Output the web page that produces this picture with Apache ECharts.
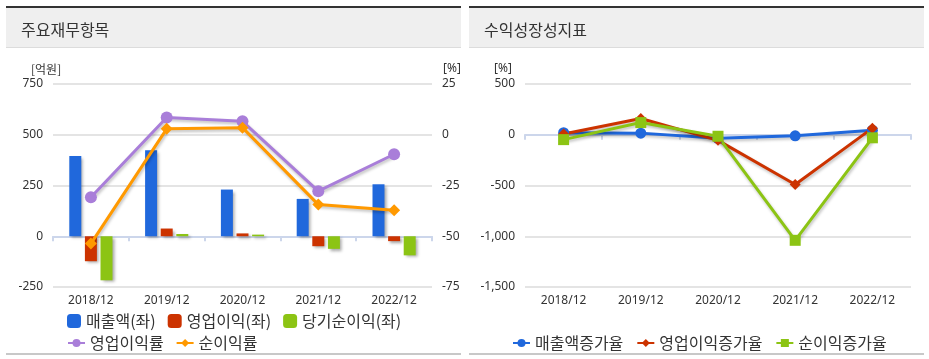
<!DOCTYPE html>
<html><head><meta charset="utf-8">
<script src="https://cdn.jsdelivr.net/npm/echarts@6/dist/echarts.min.js"></script>
<style>html,body{margin:0;padding:0;background:#fff}#c{width:929px;height:359px}</style>
</head><body><div id="c"></div>
<script>
var categories = ['2018/12','2019/12','2020/12','2021/12','2022/12'];
var revenue = [395, 424, 230, 184, 256];
var opProfit = [-123, 38, 14, -49, -24];
var netProfit = [-217, 11, 8, -62, -94];
var opMargin = [-30.8, 8.5, 6.6, -27.8, -9.6];
var netMargin = [-53.6, 2.9, 3.5, -34.4, -37.2];
var revenueGrowth = [20, 16, -35, -10, 45];
var opGrowth = [8, 160, -55, -490, 65];
var netGrowth = [-48, 120, -15, -1040, -30];
var leftTicks = {min: -250, max: 750, interval: 250};
var pctTicks = {min: -75, max: 25, interval: 25};
var growthTicks = {min: -1500, max: 500, interval: 500};

var FONT = "'Noto Sans', 'Noto Sans CJK KR', sans-serif";
var KFONT = "'Noto Sans CJK KR', sans-serif";
var C = {blue:'#2068dc', red:'#cc3300', green:'#8cc414', purple:'#a97ed9', orange:'#ff9900'};
var gridLine = {show:true, lineStyle:{color:'#e4e4e4', width:2}};
var xAxisLine = {show:true, lineStyle:{color:'#ccd6eb', width:2}};
var barShadow = {shadowColor:'rgba(0,0,0,0.35)', shadowBlur:3, shadowOffsetX:2, shadowOffsetY:2};
var lineShadow = {shadowColor:'rgba(0,0,0,0.25)', shadowBlur:3, shadowOffsetX:1, shadowOffsetY:2};
function fmt(v){ return v.toLocaleString('en-US'); }

function panel(x, w, title) {
  return [
    {type:'rect', shape:{x:x, y:6, width:w, height:2}, style:{fill:'#333'}},
    {type:'rect', shape:{x:x, y:8, width:w, height:40}, style:{fill:'#efefef'}},
    {type:'rect', shape:{x:x, y:47, width:w, height:1}, style:{fill:'#dcdcdc'}},
    {type:'rect', shape:{x:x, y:353, width:w, height:2}, style:{fill:'#c8c8c8'}},
    {type:'text', x:x+15, y:30, style:{text:title, font:'16px '+KFONT, fill:'#333', textVerticalAlign:'middle'}}
  ];
}

var chart = echarts.init(document.getElementById('c'), null, {renderer:'canvas'});
var option = {
  animation:false,
  textStyle:{fontFamily:FONT},
  graphic: panel(6, 455, '주요재무항목').concat(panel(469, 455, '수익성장성지표')).concat([
    {type:'text', x:31, y:69, style:{text:'[억원]', font:'12px '+KFONT, fill:'#333', textVerticalAlign:'middle'}},
    {type:'text', x:443, y:69, style:{text:'[%]', font:'12px '+FONT, fill:'#333', textVerticalAlign:'middle'}},
    {type:'text', x:494, y:69, style:{text:'[%]', font:'12px '+FONT, fill:'#333', textVerticalAlign:'middle'}}
  ]),
  grid:[
    {left:53, right:497, top:84, bottom:72},
    {left:525, right:18, top:84, bottom:72}
  ],
  legend:[
    {left:62, top:308, itemWidth:14, itemHeight:14, itemGap:12, icon:'roundRect',
     textStyle:{fontSize:16, color:'#333', fontFamily:KFONT},
     data:['매출액(좌)','영업이익(좌)','당기순이익(좌)']},
    {left:62, top:330, itemWidth:17, itemHeight:10, itemGap:12,
     textStyle:{fontSize:16, color:'#333', fontFamily:KFONT},
     data:['영업이익률','순이익률']},
    {left:507, top:330, itemWidth:17, itemHeight:10, itemGap:13,
     textStyle:{fontSize:16, color:'#333', fontFamily:KFONT},
     data:['매출액증가율','영업이익증가율','순이익증가율']}
  ],
  xAxis:[
    {type:'category', gridIndex:0, data:categories, axisLine:xAxisLine,
     axisTick:{show:true, length:5, lineStyle:{color:'#ccd6eb', width:2}},
     axisLabel:{color:'#333', fontSize:12, margin:8}},
    {type:'category', gridIndex:1, data:categories, axisLine:xAxisLine,
     axisTick:{show:true, length:5, lineStyle:{color:'#ccd6eb', width:2}},
     axisLabel:{color:'#333', fontSize:12, margin:8}}
  ],
  yAxis:[
    {type:'value', gridIndex:0, min:leftTicks.min, max:leftTicks.max, interval:leftTicks.interval,
     axisLine:{show:false}, axisTick:{show:false}, splitLine:gridLine,
     axisLabel:{color:'#333', fontSize:12, margin:10, formatter:fmt}},
    {type:'value', gridIndex:0, position:'right', min:pctTicks.min, max:pctTicks.max, interval:pctTicks.interval,
     axisLine:{show:false}, axisTick:{show:false}, splitLine:{show:false},
     axisLabel:{color:'#333', fontSize:12, margin:10, formatter:fmt}},
    {type:'value', gridIndex:1, min:growthTicks.min, max:growthTicks.max, interval:growthTicks.interval,
     axisLine:{show:false}, axisTick:{show:false}, splitLine:gridLine,
     axisLabel:{color:'#333', fontSize:12, margin:10, formatter:fmt}}
  ],
  series:[
    {name:'매출액(좌)', type:'bar', xAxisIndex:0, yAxisIndex:0, data:revenue, barWidth:12, barGap:'30%',
     itemStyle:Object.assign({color:C.blue}, barShadow)},
    {name:'영업이익(좌)', type:'bar', xAxisIndex:0, yAxisIndex:0, data:opProfit, barWidth:12, barGap:'30%',
     itemStyle:Object.assign({color:C.red}, barShadow)},
    {name:'당기순이익(좌)', type:'bar', xAxisIndex:0, yAxisIndex:0, data:netProfit, barWidth:12, barGap:'30%',
     itemStyle:Object.assign({color:C.green}, barShadow)},
    {name:'영업이익률', type:'line', xAxisIndex:0, yAxisIndex:1, data:opMargin, symbol:'circle', symbolSize:12,
     lineStyle:Object.assign({color:C.purple, width:3}, lineShadow), itemStyle:{color:C.purple}},
    {name:'순이익률', type:'line', xAxisIndex:0, yAxisIndex:1, data:netMargin, symbol:'diamond', symbolSize:12,
     lineStyle:Object.assign({color:C.orange, width:3}, lineShadow), itemStyle:{color:C.orange}},
    {name:'매출액증가율', type:'line', xAxisIndex:1, yAxisIndex:2, data:revenueGrowth, symbol:'circle', symbolSize:11,
     lineStyle:Object.assign({color:C.blue, width:3}, lineShadow), itemStyle:{color:C.blue}},
    {name:'영업이익증가율', type:'line', xAxisIndex:1, yAxisIndex:2, data:opGrowth, symbol:'diamond', symbolSize:11,
     lineStyle:Object.assign({color:C.red, width:3}, lineShadow), itemStyle:{color:C.red}},
    {name:'순이익증가율', type:'line', xAxisIndex:1, yAxisIndex:2, data:netGrowth, symbol:'rect', symbolSize:11,
     lineStyle:Object.assign({color:C.green, width:3}, lineShadow), itemStyle:{color:C.green}}
  ]
};
chart.setOption(option);
</script></body></html>
